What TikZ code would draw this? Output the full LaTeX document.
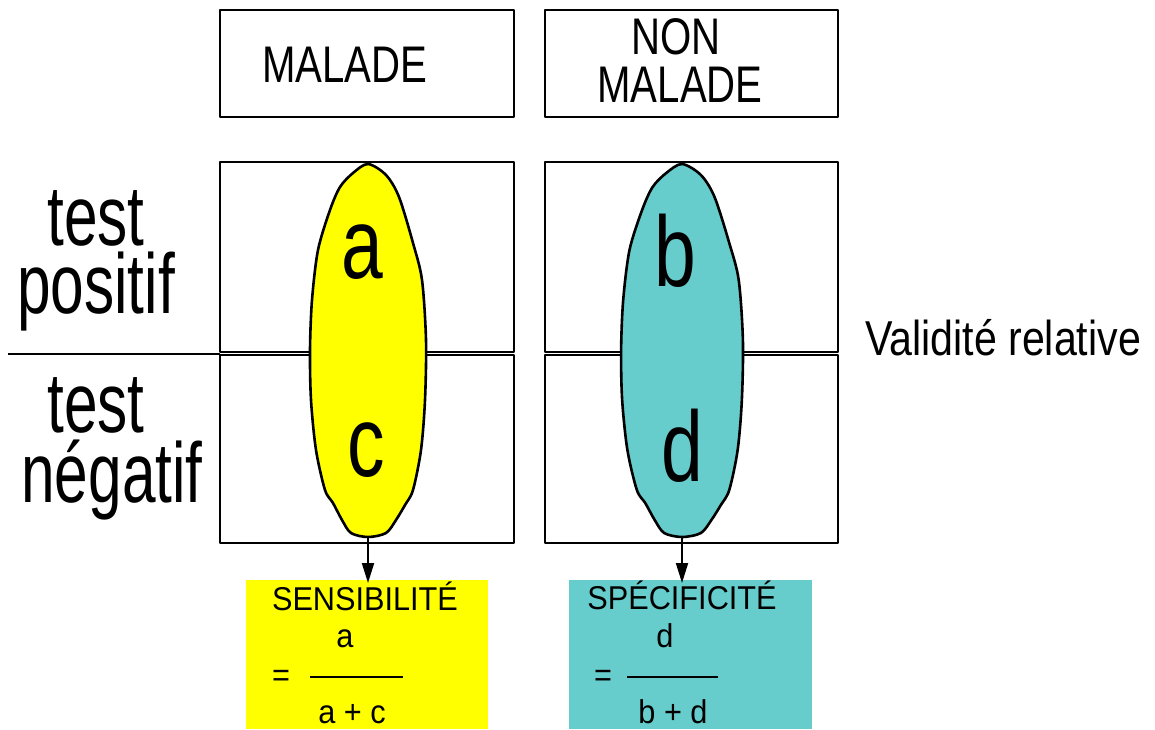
\documentclass[tikz,border=0pt]{standalone}
\usepackage{fontspec}
\setmainfont{Liberation Sans}
\newfontfamily\fA[FakeStretch=0.78]{Liberation Sans}
\newfontfamily\fT[FakeStretch=0.71]{Liberation Sans}
\newfontfamily\fL[FakeStretch=0.75]{Liberation Sans}
\newfontfamily\fV[FakeStretch=0.84]{Liberation Sans}
\newfontfamily\fS[FakeStretch=0.93]{Liberation Sans}
\usetikzlibrary{arrows.meta,calc}
\definecolor{jaune}{RGB}{255,255,0}
\definecolor{turq}{RGB}{102,204,204}
\begin{document}
\begin{tikzpicture}[x=1pt,y=-1pt,line join=round,
  frame/.style={draw,line width=2pt,inner sep=0pt,outer sep=0pt},
  resbox/.style={inner sep=0pt,outer sep=0pt},
  lbl/.style={anchor=base,inner sep=0pt,outer sep=0pt},
  big/.style={lbl,font=\fA\fontsize{51.5}{51.5}\selectfont},
  side/.style={lbl,font=\fT\fontsize{85}{85}\selectfont},
  cell/.style={lbl,font=\fL\fontsize{100}{100}\selectfont},
  small/.style={lbl,font=\fS\fontsize{33}{33}\selectfont},
  blob/.style={draw,line width=2.6pt},
  arr/.style={line width=2pt,-{Triangle[length=20pt,width=12pt]}},
  frac/.style={line width=2.3pt}]
\useasboundingbox[fill=white] (0,0) rectangle (1155,729);

% grid cells
\node[frame,minimum width=294pt,minimum height=190pt] (pa) at (367,257) {};
\node[frame,minimum width=294pt,minimum height=188pt] (ca) at (367,449) {};
\node[frame,minimum width=293pt,minimum height=190pt] (pb) at (691.5,257) {};
\node[frame,minimum width=293pt,minimum height=188pt] (cb) at (691.5,449) {};
\coordinate (L) at (8,354);
\draw[line width=2pt] (L) -- (L -| ca.west);

% blobs
\begin{scope}[shift={(368,0)}]
\draw[blob,fill=jaune] plot[smooth cycle,tension=0.5] coordinates {(0,164) (18,175) (31,197) (45,243) (54,280) (58,340) (57,400) (53,450) (45,490) (37,505) (28,520) (18,533) (0,537) (-17,533) (-26,520) (-35,503) (-43,490) (-52,450) (-57,400) (-58,350) (-56,300) (-50,250) (-38,210) (-28,187) (-15,173)};
\end{scope}
\begin{scope}[shift={(682,0)},xscale=1.05]
\draw[blob,fill=turq] plot[smooth cycle,tension=0.5] coordinates {(0,164) (18,175) (31,197) (45,243) (54,280) (58,340) (57,400) (53,450) (45,490) (37,505) (28,520) (18,533) (0,537) (-17,533) (-26,520) (-35,503) (-43,490) (-52,450) (-57,400) (-58,350) (-56,300) (-50,250) (-38,210) (-28,187) (-15,173)};
\end{scope}
\coordinate (ab) at (368,537);
\coordinate (db) at (682,537);

% header boxes
\node[frame,minimum width=294pt,minimum height=107pt] (hm) at (367,63.5) {};
\node[frame,minimum width=293pt,minimum height=107pt] (hn) at (691.5,63.5) {};
\node[big] (tm) at (345,82) {MALADE};
\node[big] (tn1) at (676,54) {NON};
\node[big] (tn2) at (680,102) {MALADE};

% side labels
\node[side] (s1) at (96,245) {test};
\node[side] (s2) at (96,313) {positif};
\node[side] (s3) at (96,432) {test};
\node[side] (s4) at (112,502) {négatif};
\node[lbl,anchor=base west,font=\fV\fontsize{49}{49}\selectfont] (vr) at (865,355) {Validité relative};

% cell letters
\node[cell] (la) at (362,278) {a};
\node[cell] (lc) at (366,476) {c};
\node[cell] (lb) at (675,286) {b};
\node[cell] (ld) at (682,481) {d};

% result boxes
\node[resbox,fill=jaune,minimum width=242pt,minimum height=149pt] (sens) at (367,654.5) {};
\node[resbox,fill=turq,minimum width=243pt,minimum height=149pt] (spec) at (690.5,654.5) {};
\begin{scope}
\clip (sens.north west) rectangle (sens.south east);
\node[small] (ts) at (365,610) {SENSIBILITÉ};
\end{scope}
\begin{scope}
\clip (spec.north west) rectangle (spec.south east);
\node[small] (tp) at (682,609) {SPÉCIFICITÉ};
\end{scope}
\node[small] (na) at (345,647) {a};
\node[small] (ea) at (281,686) {=};
\coordinate (fa1) at (310,677);
\coordinate (fa2) at (403,677);
\draw[frac] (fa1) -- (fa2);
\node[small] (da) at (352,723) {a + c};
\node[small] (nd) at (665,647) {d};
\node[small] (ed) at (603,686) {=};
\coordinate (fd1) at (627,677);
\coordinate (fd2) at (718,677);
\draw[frac] (fd1) -- (fd2);
\node[small] (dd) at (673,723) {b + d};

% arrows
\draw[arr] (ab) -- ($(ab |- sens.north)+(0,3)$);
\draw[arr] (db) -- ($(db |- spec.north)+(0,3)$);
\end{tikzpicture}
\end{document}
